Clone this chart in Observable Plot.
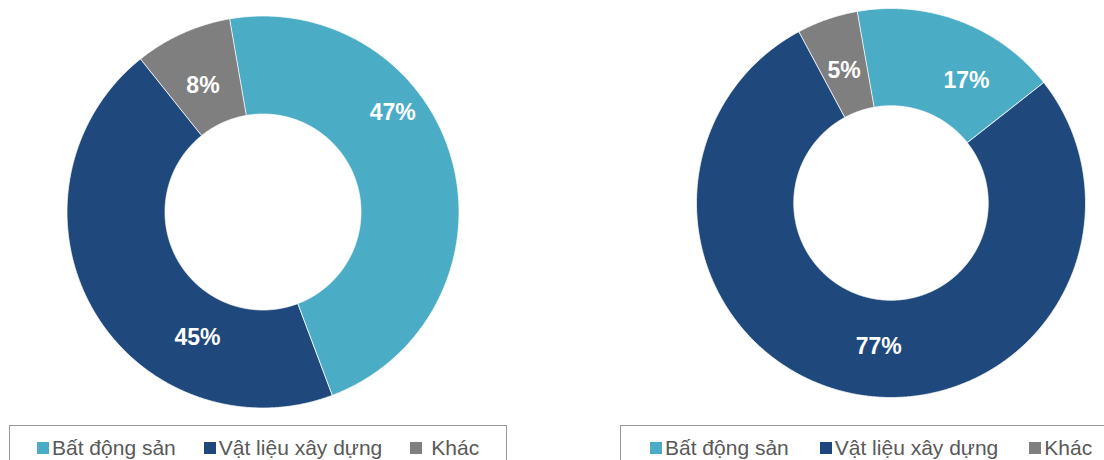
<!DOCTYPE html>
<html>
<head>
<meta charset="utf-8">
<script src="https://cdn.jsdelivr.net/npm/d3@7"></script>
<script src="https://cdn.jsdelivr.net/npm/@observablehq/plot@0.6"></script>
<style>
  html, body { margin: 0; padding: 0; background: #fff; }
  #wrap { position: relative; width: 1104px; height: 460px; overflow: hidden; font-family: "Liberation Sans", Arial, sans-serif; }
  .chart { position: absolute; top: 0; }
  .legend { position: absolute; top: 425px; height: 60px; border: 1px solid #999; box-sizing: border-box; }
  .row { position: absolute; top: 11px; display: flex; align-items: flex-start; font-size: 21px; line-height: 21px; color: #595959; white-space: nowrap; }
  .sw { width: 12px; height: 12px; margin-top: 5px; flex: none; }
</style>
</head>
<body>
<div id="wrap"></div>
<script>
// ---- data ----
const categories = ["Bất động sản", "Vật liệu xây dựng", "Khác"];
const colors = ["#4BACC6", "#1F497D", "#7F7F7F"];
const leftValues = [47, 45, 8];
const rightValues = [17, 77, 5];
const leftLabels = ["47%", "45%", "8%"];
const rightLabels = ["17%", "77%", "5%"];

// ---- layout ----
const layouts = [
  { left: 0, margin: [15.5, 93.5, 12.5, 66.5], start: -9.8,
    labelPos: [[52.5, 0.834], [207.6, 0.722], [334.6, 0.714]] },
  { left: 552, margin: [8, 19, 23, 144], start: -10,
    labelPos: [[31.6, 0.740], [184.9, 0.739], [340.5, 0.722]] }
];
const innerRatio = 0.5;

function donut(values, labels, L) {
  const rad = Math.PI / 180;
  const arcs = d3.pie().sort(null).startAngle(L.start * rad).endAngle(L.start * rad + 2 * Math.PI)(values);
  const pts = [];
  arcs.forEach((a, i) => {
    const n = Math.max(2, Math.ceil((a.endAngle - a.startAngle) / (0.4 * rad)));
    for (let k = 0; k <= n; k++) {
      const t = a.startAngle + (a.endAngle - a.startAngle) * k / n;
      pts.push({ cat: categories[i], x: Math.sin(t), y: Math.cos(t) });
    }
    for (let k = n; k >= 0; k--) {
      const t = a.startAngle + (a.endAngle - a.startAngle) * k / n;
      pts.push({ cat: categories[i], x: innerRatio * Math.sin(t), y: innerRatio * Math.cos(t) });
    }
  });
  const lab = labels.map((s, i) => ({
    text: s,
    x: L.labelPos[i][1] * Math.sin(L.labelPos[i][0] * rad),
    y: L.labelPos[i][1] * Math.cos(L.labelPos[i][0] * rad)
  }));
  return Plot.plot({
    width: 552, height: 420,
    marginTop: L.margin[0], marginRight: L.margin[1], marginBottom: L.margin[2], marginLeft: L.margin[3],
    x: { domain: [-1, 1], axis: null },
    y: { domain: [-1, 1], axis: null },
    color: { domain: categories, range: colors },
    style: { fontFamily: "'Liberation Sans', Arial, sans-serif", background: "transparent" },
    marks: [
      Plot.line(pts, { x: "x", y: "y", z: "cat", fill: "cat", stroke: "white", strokeWidth: 0.75, curve: "linear-closed" }),
      Plot.text(lab, { x: "x", y: "y", text: "text", fill: "white", fontSize: 23, fontWeight: "bold" })
    ]
  });
}

const wrap = document.getElementById("wrap");
[[leftValues, leftLabels], [rightValues, rightLabels]].forEach(([v, l], j) => {
  const div = document.createElement("div");
  div.className = "chart";
  div.style.left = layouts[j].left + "px";
  div.appendChild(donut(v, l, layouts[j]));
  wrap.appendChild(div);
});

// ---- legends ----
const legendCfg = [
  { left: 9, width: 498, pad: 27, gap: 28, khacGap: 9 },
  { left: 620, width: 520, pad: 29, gap: 31, khacGap: 3 }
];
legendCfg.forEach(cfg => {
  const box = document.createElement("div");
  box.className = "legend";
  box.style.left = cfg.left + "px";
  box.style.width = cfg.width + "px";
  const row = document.createElement("div");
  row.className = "row";
  row.style.left = cfg.pad + "px";
  categories.forEach((c, i) => {
    const sw = document.createElement("span");
    sw.className = "sw";
    sw.style.background = colors[i];
    if (i > 0) sw.style.marginLeft = cfg.gap + "px";
    const t = document.createElement("span");
    t.textContent = c;
    t.style.marginLeft = (i === 2 ? cfg.khacGap : 3) + "px";
    row.appendChild(sw);
    row.appendChild(t);
  });
  box.appendChild(row);
  wrap.appendChild(box);
});
</script>
</body>
</html>
